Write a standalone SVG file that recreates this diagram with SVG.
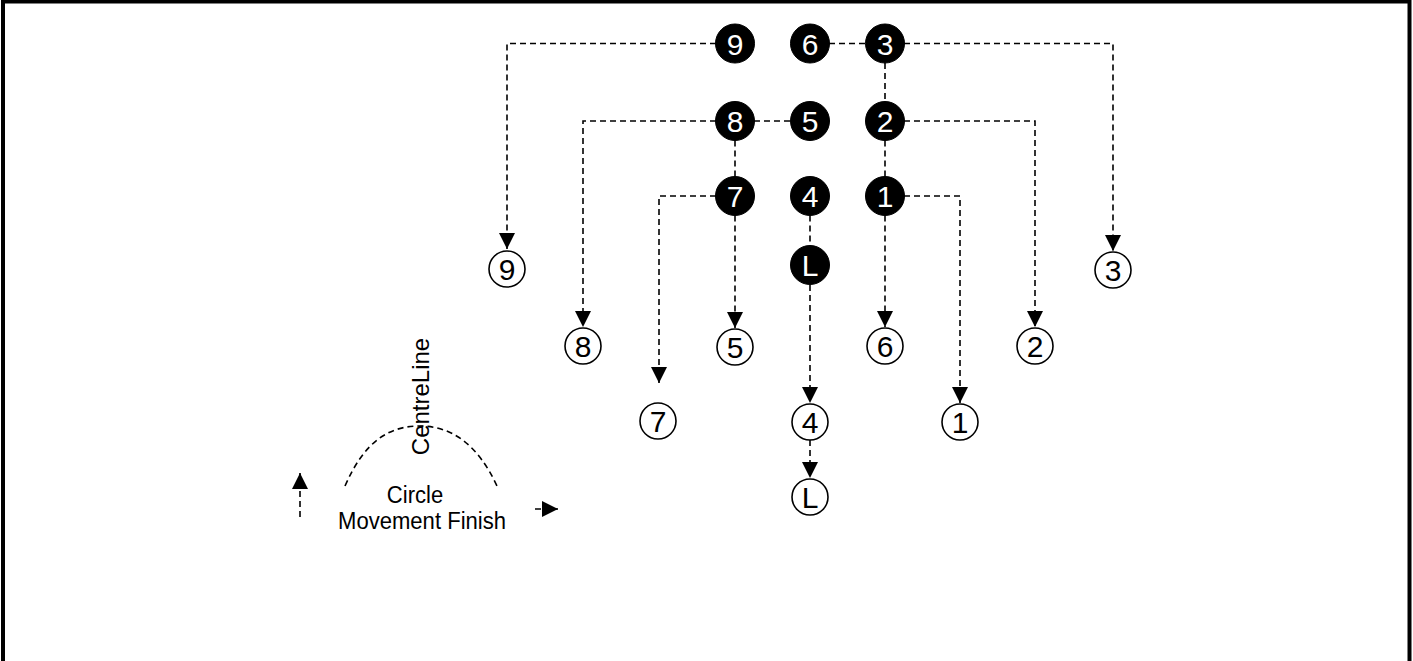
<svg xmlns="http://www.w3.org/2000/svg" width="1413" height="661" viewBox="0 0 1413 661">
<style>
.f ellipse{fill:#000;stroke:#000;stroke-width:1}
.f text{fill:#fff;font-family:"Liberation Sans",Arial,sans-serif;font-size:30px;text-anchor:middle}
.h ellipse{fill:#fff;stroke:#000;stroke-width:1.6}
.h text{fill:#000;font-family:"Liberation Sans",Arial,sans-serif;font-size:30px;text-anchor:middle}
.c path{fill:none;stroke:#000;stroke-width:1.6;stroke-dasharray:6,4}
.c path.a{marker-end:url(#ah)}
.lbl{font-family:"Liberation Sans",Arial,sans-serif;font-size:24px;fill:#000;text-anchor:middle}
</style>
<defs>
<marker id="ah" viewBox="0 0 16 16" refX="16" refY="8" markerWidth="16" markerHeight="16" markerUnits="userSpaceOnUse" orient="auto">
<path d="M0,0 L16,8 L0,16 z" fill="#000"/>
</marker>
</defs>
<rect x="3" y="1.5" width="1406.5" height="680" fill="#fff" stroke="#000" stroke-width="4"/>
<g id="connectors" class="c">
<path class="a" d="M716,43.5 H507 V249"/>
<path class="a" d="M904,43.5 H1113 V251"/>
<path d="M829,43.5 H866"/>
<path d="M885,63 V101.5"/>
<path d="M885,140.5 V176.5"/>
<path class="a" d="M885,215.5 V327"/>
<path class="a" d="M904,121 H1035 V327"/>
<path class="a" d="M904,196 H960 V403"/>
<path class="a" d="M716,121 H583 V327"/>
<path d="M754,121 H791"/>
<path d="M735,140.5 V176.5"/>
<path class="a" d="M716,196 H659 V383"/>
<path class="a" d="M735,215.5 V328"/>
<path d="M810,215.5 V245"/>
<path class="a" d="M810,285 V403"/>
<path class="a" d="M810,440 V478"/>
</g>
<g id="filled" class="f">
<g id="f9"><ellipse cx="735" cy="43.5" rx="19.5" ry="19.5"/><text x="735" y="54.5">9</text></g>
<g id="f6"><ellipse cx="810" cy="43.5" rx="19.5" ry="19.5"/><text x="810" y="54.5">6</text></g>
<g id="f3"><ellipse cx="885" cy="43.5" rx="19.5" ry="19.5"/><text x="885" y="54.5">3</text></g>
<g id="f8"><ellipse cx="735" cy="121" rx="19.5" ry="19.5"/><text x="735" y="132">8</text></g>
<g id="f5"><ellipse cx="810" cy="121" rx="19.5" ry="19.5"/><text x="810" y="132">5</text></g>
<g id="f2"><ellipse cx="885" cy="121" rx="19.5" ry="19.5"/><text x="885" y="132">2</text></g>
<g id="f7"><ellipse cx="735" cy="196" rx="19.5" ry="19.5"/><text x="735" y="207">7</text></g>
<g id="f4"><ellipse cx="810" cy="196" rx="19.5" ry="19.5"/><text x="810" y="207">4</text></g>
<g id="f1"><ellipse cx="885" cy="196" rx="19.5" ry="19.5"/><text x="885" y="207">1</text></g>
<g id="fL"><ellipse cx="810" cy="265" rx="19.5" ry="19.5"/><text x="810" y="276">L</text></g>
</g>
<g id="hollow" class="h">
<g id="h9"><ellipse cx="507" cy="269" rx="18" ry="18"/><text x="507" y="280">9</text></g>
<g id="h3"><ellipse cx="1113" cy="270" rx="18" ry="18"/><text x="1113" y="281">3</text></g>
<g id="h8"><ellipse cx="583" cy="346" rx="18" ry="18"/><text x="583" y="357">8</text></g>
<g id="h5"><ellipse cx="735" cy="347" rx="18" ry="18"/><text x="735" y="358">5</text></g>
<g id="h6"><ellipse cx="885" cy="346" rx="18" ry="18"/><text x="885" y="357">6</text></g>
<g id="h2"><ellipse cx="1035" cy="346" rx="18" ry="18"/><text x="1035" y="357">2</text></g>
<g id="h7"><ellipse cx="658" cy="421" rx="18" ry="18"/><text x="658" y="432">7</text></g>
<g id="h4"><ellipse cx="810" cy="422" rx="18" ry="18"/><text x="810" y="433">4</text></g>
<g id="h1"><ellipse cx="960" cy="422" rx="18" ry="18"/><text x="960" y="433">1</text></g>
<g id="hL"><ellipse cx="810" cy="497" rx="18" ry="18"/><text x="810" y="508">L</text></g>
</g>
<g id="legend">
<g class="c">
<path d="M345,486 C365,440 390,426 420,426 C452,426 478,445 497,486"/>
<path class="a" d="M300,517 V473"/>
<path class="a" d="M535,509 H558"/>
</g>
<text class="lbl" transform="translate(429,396.5) rotate(-90)">CentreLine</text>
<text class="lbl" transform="translate(415,503) scale(0.92,1)">Circle</text>
<text class="lbl" transform="translate(422,529) scale(0.92,1)">Movement Finish</text>
</g>
</svg>
